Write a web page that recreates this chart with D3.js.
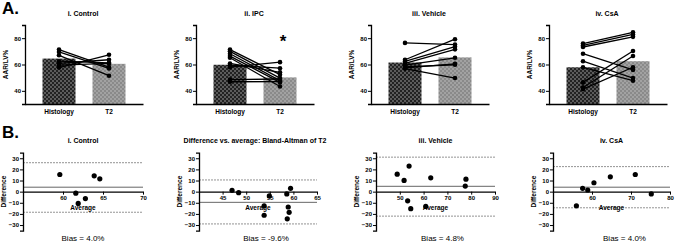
<!DOCTYPE html>
<html>
<head>
<meta charset="utf-8">
<script src="https://cdn.jsdelivr.net/npm/d3@7"></script>
<style>
  body { margin: 0; background: #fff; }
  svg { font-family: "Liberation Sans", Arial, sans-serif; }
</style>
</head>
<body>
<div id="chart"></div>
<script>
// ---- data ----
const groups = ['i. Control', 'ii. IPC', 'iii. Vehicle', 'iv. CsA'];
const conditions = ['Histology', 'T2'];

// bar heights (mean AAR/LV%)
const meanHistology = [64.5, 59.8, 61.5, 57.9];
const meanT2 = [60.5, 50.2, 65.4, 62.5];

// paired animals, histology -> T2
const controlHist = [71.3, 69.5, 67.0, 62.5, 60.8, 59.5, 57.7];
const controlT2 = [58.0, 57.0, 51.5, 61.3, 63.6, 60.8, 67.4];
const ipcHist = [71.3, 70.0, 68.2, 66.4, 65.1, 60.8, 59.5, 58.0, 48.5, 46.9];
const ipcT2 = [52.3, 49.7, 47.7, 46.4, 43.3, 54.1, 57.2, 61.8, 49.0, 47.0];
const vehicleHist = [76.4, 63.6, 62.3, 60.8, 59.5, 58.2, 57.5, 56.9];
const vehicleT2 = [75.1, 79.2, 73.5, 71.5, 65.1, 59.8, 60.5, 49.7];
const csaHist = [75.9, 74.5, 73.3, 68.2, 62.5, 57.9, 46.4, 42.5, 41.3];
const csaT2 = [84.4, 82.8, 81.0, 55.9, 49.7, 47.7, 70.2, 66.4, 57.9];

// Bland-Altman points
const controlAvg = [59.6, 61.6, 61.9, 62.8, 63.9, 64.6];
const controlDiff = [15.4, -1.4, -10.6, -6.2, 14.2, 11.5];
const ipcAvg = [47.0, 48.4, 53.8, 53.8, 54.9, 58.6, 58.9, 59.1, 58.7, 59.4];
const ipcDiff = [1.2, -0.9, -12.7, -21.2, -3.8, -2.0, -13.8, -18.6, -24.4, 3.0];
const vehicleAvg = [48.9, 51.8, 53.3, 53.9, 54.6, 60.9, 63.0, 77.8, 77.5];
const vehicleDiff = [15.7, 10.1, -8.2, 23.0, -15.3, -13.3, 12.4, 11.2, 5.0];
const csaAvg = [56.0, 57.6, 58.9, 60.5, 64.7, 71.1, 75.2];
const csaDiff = [-12.7, 3.0, 1.5, 8.0, 13.3, 15.4, -2.0];

// bias and limits of agreement
const bias = [4.0, -9.6, 4.8, 4.0];
const upperLimit = [26.0, 10.5, 31.0, 22.5];
const lowerLimit = [-18.5, -29.0, -22.0, -14.5];
const biasLabels = ['Bias = 4.0%', 'Bias = -9.6%', 'Bias = 4.8%', 'Bias = 4.0%'];
const baTitles = ['i. Control', 'Difference vs. average: Bland-Altman of T2', 'iii. Vehicle', 'iv. CsA'];
const baDomains = [[55, 70], [40, 65], [40, 90], [50, 80]];
const baTicks = [[60, 65, 70], [45, 50, 55, 60, 65], [50, 60, 70, 80, 90], [60, 70, 80]];
const aTicks = [40, 60, 80];
const bTicks = [-30, -20, -10, 0, 10, 20, 30];

const histData = [controlHist, ipcHist, vehicleHist, csaHist];
const t2Data = [controlT2, ipcT2, vehicleT2, csaT2];
const avgData = [controlAvg, ipcAvg, vehicleAvg, csaAvg];
const diffData = [controlDiff, ipcDiff, vehicleDiff, csaDiff];

const width = 675;
const height = 242;

// panel left edges (y-axis positions)
const aLeft = [25, 196, 371, 549];
const bLeft = [23, 199, 376, 553];
const bWidth = [120, 118, 119, 117];

const svg = d3.select('#chart').append('svg')
    .attr('width', width)
    .attr('height', height);

// checker patterns for the bars
const defs = svg.append('defs');
function checker(id, a, b) {
    const p = defs.append('pattern')
        .attr('id', id)
        .attr('width', 4).attr('height', 4)
        .attr('patternUnits', 'userSpaceOnUse');
    p.append('rect').attr('width', 4).attr('height', 4).attr('fill', a);
    p.append('rect').attr('width', 2).attr('height', 2).attr('fill', b);
    p.append('rect').attr('x', 2).attr('y', 2).attr('width', 2).attr('height', 2).attr('fill', b);
}
checker('pat-hist', '#222', '#5c5c5c');
checker('pat-t2', '#8a8a8a', '#a2a2a2');

// panel letters
svg.append('text').attr('x', 2).attr('y', 14)
    .attr('font-size', '17px').attr('font-weight', 'bold').text('A.');
svg.append('text').attr('x', 2).attr('y', 138)
    .attr('font-size', '17px').attr('font-weight', 'bold').text('B.');

// ---- A: paired bar charts ----
const yA = d3.scaleLinear().domain([30, 90]).range([104, 25]);

groups.forEach((name, gi) => {
    const left = aLeft[gi];
    const g = svg.append('g');
    const x = d3.scaleBand()
        .domain(conditions)
        .range([left, left + 118])
        .paddingInner(0.34)
        .paddingOuter(0.35);

    g.selectAll('rect.bar')
        .data([meanHistology[gi], meanT2[gi]])
        .join('rect')
            .attr('class', 'bar')
            .attr('x', (d, i) => x(conditions[i]))
            .attr('y', d => yA(d))
            .attr('width', x.bandwidth())
            .attr('height', d => yA(30) - yA(d))
            .attr('fill', (d, i) => i == 0 ? 'url(#pat-hist)' : 'url(#pat-t2)');

    const cx0 = x('Histology') + x.bandwidth() / 2;
    const cx1 = x('T2') + x.bandwidth() / 2;
    const pairs = histData[gi].map((h, i) => [h, t2Data[gi][i]]);

    g.selectAll('line.pair')
        .data(pairs)
        .join('line')
            .attr('x1', cx0).attr('x2', cx1)
            .attr('y1', d => yA(d[0])).attr('y2', d => yA(d[1]))
            .attr('stroke', '#000').attr('stroke-width', 1.3);
    g.selectAll('circle.h')
        .data(pairs)
        .join('circle')
            .attr('class', 'h')
            .attr('cx', cx0).attr('cy', d => yA(d[0])).attr('r', 2.3);
    g.selectAll('circle.t')
        .data(pairs)
        .join('circle')
            .attr('class', 't')
            .attr('cx', cx1).attr('cy', d => yA(d[1])).attr('r', 2.3);

    // axes
    g.append('g')
        .attr('transform', `translate(${left},0)`)
        .call(d3.axisLeft(yA).tickValues(aTicks).tickSize(3).tickPadding(1))
        .call(a => a.select('.domain').attr('stroke-width', 1.3))
        .call(a => a.selectAll('.tick text').attr('font-size', '6px').attr('font-weight', 'bold'));
    g.append('g')
        .attr('transform', `translate(0,${yA(30)})`)
        .call(d3.axisBottom(x).tickSize(0).tickPadding(5).tickSizeOuter(0))
        .call(a => a.select('.domain').attr('stroke-width', 1.3))
        .call(a => a.selectAll('.tick text').attr('font-size', '6.5px').attr('font-weight', 'bold'));

    g.append('text')
        .attr('transform', `translate(${left - 17},${yA(60)}) rotate(-90)`)
        .attr('text-anchor', 'middle')
        .attr('font-size', '6.5px').attr('font-weight', 'bold')
        .text('AAR/LV%');

    g.append('text')
        .attr('x', left + 58).attr('y', 16)
        .attr('text-anchor', 'middle')
        .attr('font-size', '7px').attr('font-weight', 'bold')
        .text(name);
});

// significance star on IPC
svg.append('text')
    .attr('x', aLeft[1] + 87).attr('y', 47)
    .attr('text-anchor', 'middle')
    .attr('font-size', '17px').attr('font-weight', 'bold')
    .text('*');

// ---- B: Bland-Altman plots ----
const yB = d3.scaleLinear().domain([-35, 35]).range([230.6, 152.7]);

groups.forEach((name, gi) => {
    const left = bLeft[gi];
    const right = left + bWidth[gi];
    const g = svg.append('g');
    const x = d3.scaleLinear().domain(baDomains[gi]).range([left, right]);

    // limits of agreement (dashed) and bias (solid)
    g.selectAll('line.loa')
        .data([upperLimit[gi], lowerLimit[gi]])
        .join('line')
            .attr('x1', left).attr('x2', right)
            .attr('y1', d => yB(d)).attr('y2', d => yB(d))
            .attr('stroke', '#777').attr('stroke-width', 0.8)
            .attr('stroke-dasharray', '2,1');
    g.append('line')
        .attr('x1', left).attr('x2', right)
        .attr('y1', yB(bias[gi])).attr('y2', yB(bias[gi]))
        .attr('stroke', '#555').attr('stroke-width', 0.9);

    g.append('g')
        .attr('transform', `translate(0,${yB(0)})`)
        .call(d3.axisBottom(x).tickValues(baTicks[gi]).tickSize(3).tickPadding(1).tickSizeOuter(0))
        .call(a => a.select('.domain').attr('stroke-width', 1.3))
        .call(a => a.selectAll('.tick text').attr('font-size', '6px').attr('font-weight', 'bold'));
    g.append('g')
        .attr('transform', `translate(${left},0)`)
        .call(d3.axisLeft(yB).tickValues(bTicks).tickSize(3).tickPadding(1))
        .call(a => a.select('.domain').attr('stroke-width', 1.3))
        .call(a => a.selectAll('.tick text').attr('font-size', '6px').attr('font-weight', 'bold'));

    g.selectAll('circle')
        .data(avgData[gi].map((a, i) => [a, diffData[gi][i]]))
        .join('circle')
            .attr('cx', d => x(d[0]))
            .attr('cy', d => yB(d[1]))
            .attr('r', 2.6);

    g.append('text')
        .attr('x', (left + right) / 2).attr('y', 210)
        .attr('text-anchor', 'middle')
        .attr('font-size', '6.5px').attr('font-weight', 'bold')
        .text('Average');
    g.append('text')
        .attr('transform', `translate(${left - 17},${yB(0)}) rotate(-90)`)
        .attr('text-anchor', 'middle')
        .attr('font-size', '6.5px').attr('font-weight', 'bold')
        .text('Difference');
    g.append('text')
        .attr('x', (left + right) / 2 + (gi == 0 ? 0 : gi == 1 ? 8 : gi == 2 ? 7 : 13)).attr('y', 241)
        .attr('text-anchor', 'middle')
        .attr('font-size', '8px')
        .text(biasLabels[gi]);
    g.append('text')
        .attr('x', gi == 1 ? left + 56 : (left + right) / 2).attr('y', 143)
        .attr('text-anchor', 'middle')
        .attr('font-size', '7px').attr('font-weight', 'bold')
        .text(baTitles[gi]);
});
</script>
</body>
</html>
